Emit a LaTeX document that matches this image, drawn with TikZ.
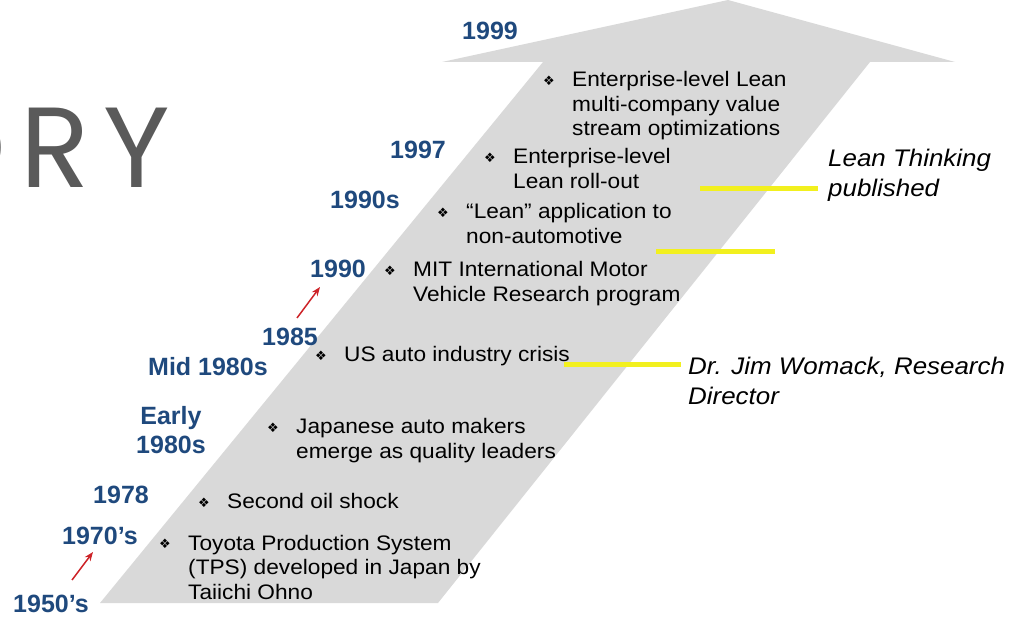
\documentclass[tikz,border=0pt]{standalone}
\usepackage{fontspec}
\setmainfont{Liberation Sans}
\newfontfamily\bodyfont[FakeStretch=1.08]{Liberation Sans}
\newfontfamily\bulletfont{DejaVu Sans}
\newfontfamily\titlefont{Poppins}
\usepackage{tikz}
\usetikzlibrary{positioning, arrows.meta, calc}

\definecolor{arrowgray}{RGB}{217,217,217}
\definecolor{yearblue}{RGB}{31,73,125}
\definecolor{titlegray}{RGB}{90,90,90}
\definecolor{markyellow}{RGB}{242,240,30}
\definecolor{tipred}{RGB}{205,35,40}

\def\eventskip{24.5}

\tikzset{
    year/.style={font=\fontsize{25}{29}\selectfont\bfseries, text=yearblue, inner sep=0pt},
    event/.style={font=\bodyfont\fontsize{21}{24.5}\selectfont, align=left, inner sep=0pt, anchor=base west},
    bullet/.style={font=\bulletfont\fontsize{13}{13}\selectfont, inner sep=0pt},
    note/.style={font=\bodyfont\itshape\fontsize{24}{30}\selectfont, align=left, inner sep=0pt, anchor=base west},
    marker/.style={markyellow, line width=5pt},
    jump/.style={tipred, line width=1.5pt, -{Stealth[length=9pt,width=7pt]}}
}

\begin{document}
\begin{tikzpicture}[x=1pt, y=-1pt]
    \useasboundingbox (0,0) rectangle (1029,617);

    % big arrow
    \fill[arrowgray] (100,603) -- (438,603) -- (870,62) -- (955,62)
        -- (728,0) -- (442,62) -- (543,62) -- cycle;

    % title, cut by the page
    \node[font=\titlefont\fontsize{114}{114}\selectfont, text=titlegray,
        anchor=base east, inner sep=0pt] (title) at (170,188) {O\hspace{15pt}R\hspace{13pt}Y};

    % years
    \foreach \name/\x/\y/\label in {
        y1999/462/31/1999,
        y1997/390/150/1997,
        y1990s/330/200/1990s,
        y1990/310/269/1990,
        y1985/262/337/1985,
        ymid/148/367/Mid 1980s,
        y1978/93/495/1978,
        y1970/62/536/1970's,
        y1950/13/604/1950's}{
        \node[year, anchor=west] (\name) at (\x,\y) {\label};
    }
    \node[year, align=center] (yearly) at (171,430) {Early\\1980s};

    % events with bullets (x, first baseline, lines)
    \foreach \name/\x/\y/\n/\label in {
        e1/572/87/3/{Enterprise-level Lean\\multi-company value\\stream optimizations},
        e2/513/164/2/{Enterprise-level\\Lean roll-out},
        e3/466/219/2/{“Lean” application to\\non-automotive},
        e4/413/277/2/{MIT International Motor\\Vehicle Research program},
        e5/344/362/1/{US auto industry crisis},
        e6/296/434/2/{Japanese auto makers\\emerge as quality leaders},
        e7/227/509/1/{Second oil shock},
        e8/188/550/3/{Toyota Production System\\(TPS) developed in Japan by\\Taiichi Ohno}}{
        \pgfmathsetmacro\ylast{\y+(\n-1)*\eventskip}
        \pgfmathsetmacro\bx{\x-23}
        \pgfmathsetmacro\by{\y-6}
        \node[event] (\name) at (\x,\ylast) {\label};
        \node[bullet] (b\name) at (\bx,\by) {❖};
    }

    % notes
    \node[note] (thinking) at (828,197) {Lean Thinking\\published};
    \node[note] (womack) at (688,405) {Dr. Jim Womack, Research\\Director};

    % yellow markers
    \coordinate (m1a) at (700,189);
    \coordinate (m1b) at (818,189);
    \coordinate (m2a) at (656,252);
    \coordinate (m2b) at (775,252);
    \coordinate (m3a) at (564,365);
    \coordinate (m3b) at (681,365);
    \draw[marker] (m1a) -- (m1b);
    \draw[marker] (m2a) -- (m2b);
    \draw[marker] (m3a) -- (m3b);

    % red arrows
    \coordinate (j1a) at (72,580);
    \coordinate (j1b) at (93,552);
    \coordinate (j2a) at (297,318);
    \coordinate (j2b) at (320,287);
    \draw[jump] (j1a) -- (j1b);
    \draw[jump] (j2a) -- (j2b);
\end{tikzpicture}
\end{document}
